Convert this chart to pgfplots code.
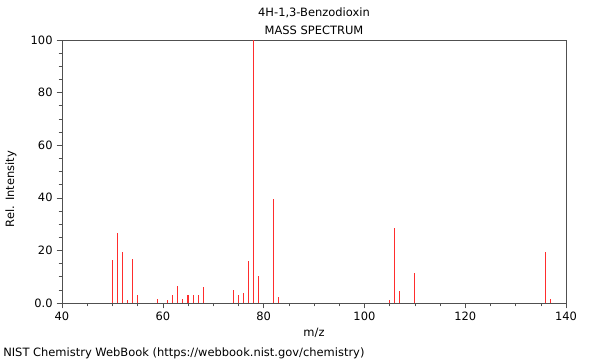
\documentclass[border=0pt]{standalone}
\usepackage{fontspec}
\setmainfont{DejaVu Sans}
\usepackage{pgfplots}
\pgfplotsset{compat=1.18}
\definecolor{peak}{RGB}{255,45,45}
\definecolor{axgray}{RGB}{80,80,80}
\begin{document}
\fontsize{8.6}{10}\selectfont
\begin{tikzpicture}[x=0.75pt,y=0.75pt]
\useasboundingbox (0,0) rectangle (600,360);
\begin{axis}[
  at={(46.5pt,42.75pt)}, anchor=south west,
  scale only axis, width=378pt, height=197.25pt,
  xmin=40, xmax=140, ymin=0, ymax=100,
  xtick={40,60,80,100,120,140},
  ytick={0,20,40,60,80,100},
  yticklabels={0.0,20,40,60,80,100},
  minor x tick num=3, minor y tick num=3,
  tick align=outside, xtick pos=left, ytick pos=left,
  major tick length=4pt, minor tick length=2.5pt,
  axis line style={axgray}, every tick/.style={axgray},
  tick label style={font=\fontsize{8.6}{10}\selectfont},
  /pgf/number format/assume math mode=true,
  clip=false,
]
\addplot[ycomb, peak, line width=0.8pt] coordinates {
(50,16.3) (51,26.5) (52,19.3) (53,1.1) (54,16.8) (55,3.0)
(59,1.5) (61,1.1) (62,3.0) (63,6.5) (64,1.4) (65,3.0) (66,3.0) (67,3.0) (68,6.2)
(74,4.9) (75,3.0) (76,3.7) (77,16.0) (78,100) (79,10.3) (82,39.4) (83,2.3)
(105,1.1) (106,28.6) (107,4.6) (110,11.3)
(136,19.3) (137,1.4)
};
\end{axis}
\node at (314,347) {4H-1,3-Benzodioxin};
\node at (314,330) {MASS SPECTRUM};
\node at (314,27) {m/z};
\node[rotate=90] at (11,171) {Rel. Intensity};
\node[anchor=west, inner sep=0pt] at (3,7) {NIST Chemistry WebBook (https://webbook.nist.gov/chemistry)};
\end{tikzpicture}
\end{document}
